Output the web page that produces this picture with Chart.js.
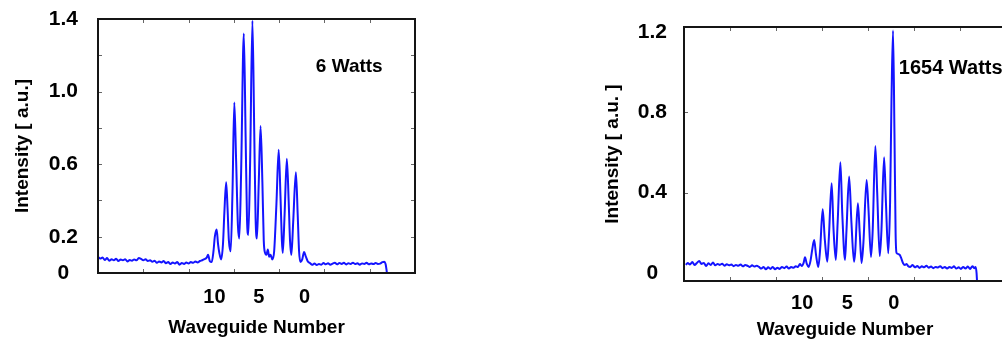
<!DOCTYPE html>
<html>
<head>
<meta charset="utf-8">
<script src="https://cdn.jsdelivr.net/npm/chart.js@4.4.0/dist/chart.umd.min.js"></script>
<style>
    html, body { margin: 0; padding: 0; background: #fff; overflow: hidden; }
    body { width: 1002px; height: 343px; position: relative; }
    .panel { position: absolute; top: 0; }
    #left { left: 0; }
    #right { left: 590px; }
</style>
</head>
<body>
<div class="panel" id="left"><canvas id="chart6W" width="480" height="343"></canvas></div>
<div class="panel" id="right"><canvas id="chart1654W" width="430" height="343"></canvas></div>
<script>
// Eje x: posicion en la camara (0-700), con las guias de onda rotuladas
const waveguideTickPos = [257, 355, 456];
const waveguideTickLabels = ['10', '5', '0'];
const minorTicksX = [100, 200, 300, 400, 500, 600];

// 6 W
const pos6W = [0, 5, 10, 15, 20, 25, 30, 35, 40, 45, 50, 55, 60, 65, 70, 75, 80, 85, 90, 95,
    100, 105, 110, 115, 120, 125, 130, 135, 140, 145, 150, 155, 160, 165, 170, 175, 180, 185, 190, 195,
    200, 205, 210, 215, 220, 225, 230, 235,
    240, 243, 247, 251, 255, 258, 262, 265, 268, 272, 276, 279, 283, 286, 289, 293, 297, 301, 305, 309,
    312, 316, 322, 326, 329, 332, 336, 341, 345, 348, 351, 355, 359, 363, 366, 369, 372, 375, 378, 381,
    385, 389, 394, 399, 403, 406, 408, 412, 417, 421, 424, 427, 431, 437, 441, 444, 447, 451, 455, 459,
    463, 468,
    473, 478, 483, 488, 493, 498, 503, 508, 513, 518, 523, 528, 533, 538, 543, 548, 553, 558, 563, 568,
    573, 578, 583, 588, 593, 598, 603, 608, 613, 618, 623, 628, 632, 635, 637, 638];
const int6W = [0.088, 0.08, 0.085, 0.072, 0.082, 0.068, 0.076, 0.07, 0.078, 0.066,
    0.074, 0.07, 0.076, 0.064, 0.072, 0.068, 0.075, 0.07, 0.082, 0.078,
    0.07, 0.076, 0.066, 0.07, 0.062, 0.068, 0.056, 0.064, 0.058, 0.066,
    0.054, 0.06, 0.05, 0.058, 0.052, 0.06, 0.046, 0.055, 0.05, 0.058,
    0.052, 0.06, 0.056, 0.064, 0.058, 0.066, 0.07, 0.076,
    0.085, 0.1, 0.065, 0.06, 0.12, 0.2, 0.24, 0.16, 0.11, 0.075,
    0.16, 0.33, 0.5, 0.36, 0.18, 0.12, 0.45, 0.94, 0.62, 0.26,
    0.19, 0.55, 1.32, 0.75, 0.3, 0.21, 0.62, 1.39, 0.78, 0.3,
    0.19, 0.5, 0.81, 0.5, 0.18, 0.11, 0.1, 0.13, 0.09, 0.1,
    0.075, 0.12, 0.38, 0.68, 0.42, 0.18, 0.11, 0.32, 0.63, 0.4,
    0.18, 0.1, 0.28, 0.556, 0.32, 0.12, 0.06, 0.075, 0.116, 0.09,
    0.065, 0.055,
    0.045, 0.052, 0.044, 0.05, 0.046, 0.055, 0.048, 0.054, 0.046, 0.052,
    0.056, 0.048, 0.055, 0.05, 0.056, 0.047, 0.054, 0.05, 0.057, 0.049,
    0.054, 0.046, 0.053, 0.05, 0.056, 0.048, 0.053, 0.049, 0.055, 0.05,
    0.052, 0.06, 0.062, 0.05, 0.02, 0];
const yTicks6W = [0, 0.2, 0.6, 1.0, 1.4];
const yTickLabels6W = ['0', '0.2', '0.6', '1.0', '1.4'];
const minorTicksY6W = [0.2, 0.4, 0.6, 0.8, 1.0, 1.2];

// 1654 W
const pos1654W = [4, 8, 13, 18, 23, 28, 33, 38, 43, 48, 53, 58, 63, 68, 73, 78, 83, 88, 93, 98,
    103, 108, 113, 118, 123, 128, 133, 138, 143, 148, 153, 158, 163, 168, 173, 178, 183, 188, 193, 198,
    203, 208, 213, 218, 223, 228, 233, 238, 243, 248, 252, 256, 260, 263, 267, 271, 275, 279, 283, 287,
    292, 296, 301.5, 306, 311.5, 315, 321, 325, 330, 334, 340, 344, 350, 353, 359, 364, 369.6, 372, 378, 382,
    386, 390, 397, 401, 406.5, 410, 416, 420, 425.5, 429, 435, 439, 444, 448, 451, 454.4, 457.5, 460, 462, 465,
    469, 472, 476, 480, 484, 487, 492, 497, 502, 507, 512, 517, 522, 527, 532, 537, 542, 547, 552, 557,
    562, 567, 572, 577, 582, 587, 592, 597, 602, 607, 612, 617, 622, 627, 631, 634, 636, 637];
const int1654W = [0.04, 0.05, 0.042, 0.055, 0.04, 0.05, 0.06, 0.045, 0.05, 0.035,
    0.048, 0.04, 0.052, 0.038, 0.045, 0.04, 0.046, 0.036, 0.044, 0.038,
    0.042, 0.034, 0.04, 0.036, 0.042, 0.033, 0.04, 0.036, 0.03, 0.038,
    0.032, 0.036, 0.03, 0.022, 0.03, 0.018, 0.028, 0.02, 0.03, 0.018,
    0.026, 0.02, 0.03, 0.024, 0.032, 0.022, 0.03, 0.026, 0.034, 0.03,
    0.045, 0.035, 0.05, 0.078, 0.045, 0.03, 0.06, 0.12, 0.164, 0.09,
    0.03, 0.12, 0.317, 0.17, 0.056, 0.18, 0.447, 0.22, 0.065, 0.25,
    0.551, 0.3, 0.065, 0.2, 0.48, 0.25, 0.056, 0.1, 0.347, 0.2,
    0.05, 0.15, 0.463, 0.32, 0.08, 0.2, 0.632, 0.4, 0.084, 0.2,
    0.576, 0.35, 0.098, 0.35, 0.85, 1.207, 0.7, 0.2, 0.1, 0.095,
    0.09, 0.075, 0.05, 0.04, 0.045, 0.035, 0.03, 0.04, 0.028, 0.035,
    0.025, 0.033, 0.028, 0.036, 0.026, 0.032, 0.024, 0.03, 0.027, 0.034,
    0.024, 0.03, 0.022, 0.03, 0.025, 0.033, 0.022, 0.028, 0.02, 0.03,
    0.022, 0.032, 0.02, 0.034, 0.024, 0.03, 0, -0.04];
const yTicks1654W = [0, 0.4, 0.8, 1.2];
const yTickLabels1654W = ['0', '0.4', '0.8', '1.2'];
const minorTicksY1654W = [0.4, 0.8];

const FONT = "'Liberation Sans', Arial, sans-serif";

// Marco del grafico, marcas interiores y rotulo de potencia
const framePlugin = {
    id: 'frame',
    afterDatasetsDraw(chart, args, opts) {
        const { ctx, chartArea: a, scales: { x, y } } = chart;
        ctx.save();
        ctx.strokeStyle = '#666';
        ctx.lineWidth = 1;
        ctx.beginPath();
        opts.xMarks.forEach(v => {
            const px = Math.round(x.getPixelForValue(v)) + 0.5;
            ctx.moveTo(px, a.top); ctx.lineTo(px, a.top + 4);
            ctx.moveTo(px, a.bottom); ctx.lineTo(px, a.bottom - 4);
        });
        opts.yMarks.forEach(v => {
            const py = Math.round(y.getPixelForValue(v)) + 0.5;
            ctx.moveTo(a.left, py); ctx.lineTo(a.left + 4, py);
            ctx.moveTo(a.right, py); ctx.lineTo(a.right - 4, py);
        });
        ctx.stroke();
        ctx.strokeStyle = '#151515';
        ctx.lineWidth = 2;
        ctx.strokeRect(a.left, a.top, a.right - a.left, a.bottom - a.top);
        ctx.fillStyle = '#000';
        ctx.font = 'bold ' + opts.labelSize + 'px ' + FONT;
        ctx.textBaseline = 'middle';
        ctx.textAlign = 'left';
        ctx.fillText(opts.label, x.getPixelForValue(opts.labelAt[0]), y.getPixelForValue(opts.labelAt[1]));
        ctx.restore();
    }
};

// Sin margen extra por los rotulos de los extremos
function sinMargen(s) {
    s.paddingTop = 0;
    s.paddingBottom = 0;
    s.paddingLeft = 0;
    s.paddingRight = 0;
}

function crearGrafico(id, xs, ys, cfg) {
    new Chart(document.getElementById(id), {
        type: 'line',
        data: {
            datasets: [{
                data: xs.map((v, i) => ({ x: v, y: ys[i] })),
                borderColor: '#1414ff',
                borderWidth: 2,
                pointRadius: 0,
                cubicInterpolationMode: 'monotone',
                fill: false
            }]
        },
        options: {
            responsive: false,
            animation: false,
            layout: { padding: { left: 0, top: cfg.top, right: cfg.right, bottom: 0 } },
            plugins: {
                legend: { display: false },
                tooltip: { enabled: false },
                frame: {
                    xMarks: minorTicksX,
                    yMarks: cfg.yMarks,
                    label: cfg.label,
                    labelAt: cfg.labelAt,
                    labelSize: cfg.labelSize
                }
            },
            scales: {
                x: {
                    type: 'linear',
                    min: 0,
                    max: 700,
                    grid: { display: false, drawTicks: false },
                    border: { display: false },
                    afterFit: s => { s.height = cfg.xAxisHeight; sinMargen(s); },
                    afterBuildTicks: s => { s.ticks = waveguideTickPos.map(v => ({ value: v })); },
                    ticks: {
                        autoSkip: false,
                        maxRotation: 0,
                        padding: cfg.xTickPad,
                        color: '#000',
                        font: { family: FONT, size: 20, weight: 'bold' },
                        callback: (v, i) => waveguideTickLabels[i]
                    },
                    title: {
                        display: true,
                        text: 'Waveguide Number',
                        color: '#000',
                        padding: { top: 0, bottom: cfg.xTitlePad },
                        font: { family: FONT, size: 19, weight: 'bold' }
                    }
                },
                y: {
                    type: 'linear',
                    min: cfg.yMin,
                    max: cfg.yMax,
                    grid: { display: false, drawTicks: false },
                    border: { display: false },
                    afterFit: s => { s.width = cfg.yAxisWidth; sinMargen(s); },
                    afterBuildTicks: s => { s.ticks = cfg.yTicks.map(v => ({ value: v })); },
                    ticks: {
                        crossAlign: 'center',
                        padding: cfg.yTickPad,
                        color: '#000',
                        font: { family: FONT, size: 21, weight: 'bold' },
                        callback: (v, i) => cfg.yTickLabels[i]
                    },
                    title: {
                        display: true,
                        text: cfg.yTitle,
                        color: '#000',
                        padding: { top: 11, bottom: 0 },
                        font: { family: FONT, size: 19, weight: 'bold' }
                    }
                }
            }
        },
        plugins: [framePlugin]
    });
}

crearGrafico('chart6W', pos6W, int6W, {
    top: 19, right: 65, xAxisHeight: 70, yAxisWidth: 98,
    yMin: 0, yMax: 1.4, yTicks: yTicks6W, yTickLabels: yTickLabels6W, yMarks: minorTicksY6W,
    yTickPad: 20, xTickPad: 12, xTitlePad: 4,
    yTitle: 'Intensity [ a.u.]',
    label: '6 Watts', labelAt: [481, 1.135], labelSize: 19
});

crearGrafico('chart1654W', pos1654W, int1654W, {
    top: 27, right: 14, xAxisHeight: 62, yAxisWidth: 94,
    yMin: -0.04, yMax: 1.225, yTicks: yTicks1654W, yTickLabels: yTickLabels1654W, yMarks: minorTicksY1654W,
    yTickPad: 17, xTickPad: 10, xTitlePad: 2,
    yTitle: 'Intensity [ a.u. ]',
    label: '1654 Watts', labelAt: [467, 1.02], labelSize: 20
});
</script>
</body>
</html>
